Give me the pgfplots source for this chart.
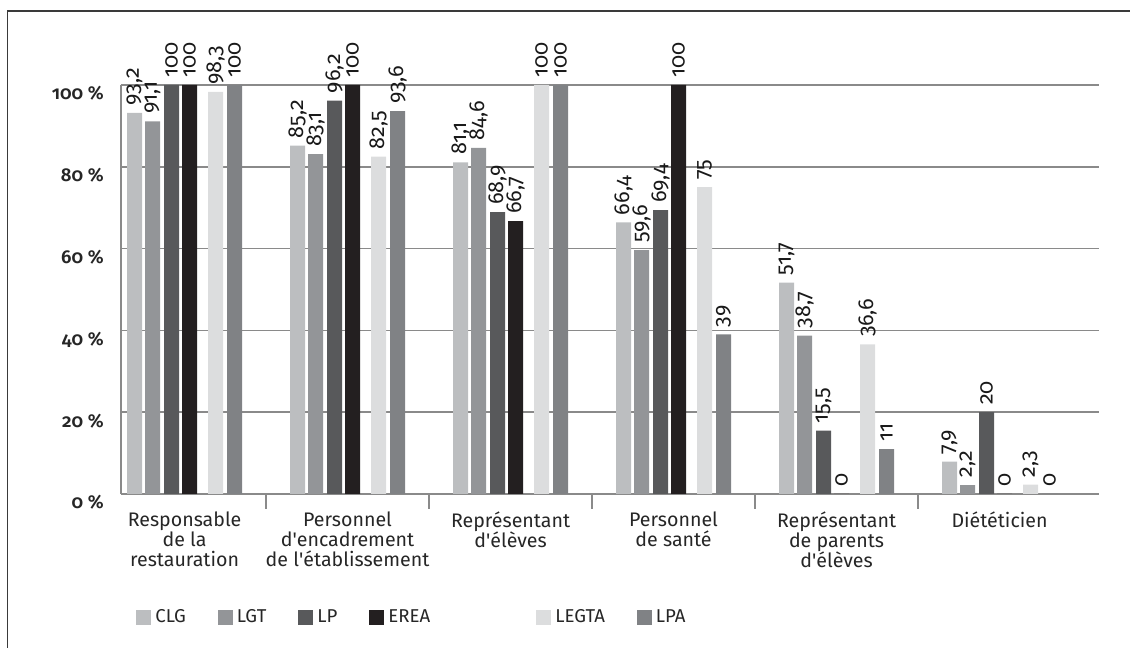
\documentclass[border=0pt]{standalone}
\usepackage{fontspec}
\setmainfont{Fira Sans}[Numbers=OldStyle, BoldFont={Fira Sans SemiBold}]
\usepackage{pgfplots}
\usepackage{pgfplotstable}
\pgfplotsset{compat=1.18}

\definecolor{cCLG}{HTML}{BCBEC0}
\definecolor{cLGT}{HTML}{939598}
\definecolor{cLP}{HTML}{58595B}
\definecolor{cEREA}{HTML}{231F20}
\definecolor{cLEGTA}{HTML}{DCDDDE}
\definecolor{cLPA}{HTML}{808285}
\definecolor{gridgray}{HTML}{8A8A8A}
\definecolor{framegray}{HTML}{3A3A3A}

% one row per category, one column per type of school
\pgfplotstableread{
g clg lgt lp erea legta lpa
0 93.2 91.1 100 100 98.3 100
1 85.2 83.1 96.2 100 82.5 93.6
2 81.1 84.6 68.9 66.7 100 100
3 66.4 59.6 69.4 100 75 39
4 51.7 38.7 15.5 0 36.6 11
5 7.9 2.2 20 0 2.3 0
}\datatable

\begin{document}
\begin{tikzpicture}[x=1pt,y=1pt]
\useasboundingbox (0,0) rectangle (565,324);
\draw[line width=0.9pt, framegray] (3.75,-10) -- (3.75,318.5) -- (600,318.5);
\begin{axis}[
  at={(60.5pt,77pt)}, anchor=south west,
  scale only axis, width=489pt, height=204.5pt,
  xmin=-0.39, xmax=5.61, ymin=0, ymax=100,
  ybar, bar width=7.5pt,
  clip=false,
  axis x line*=bottom, axis y line*=left,
  axis line style={-, gridgray, line width=0.75pt},
  ymajorgrids, grid style={gridgray, line width=0.75pt},
  xtick={0,...,5},
  xticklabels={
    Responsable\\de la\\restauration,
    Personnel\\d\textquotesingle encadrement\\de l\textquotesingle établissement,
    Représentant\\d\textquotesingle élèves,
    Personnel\\de santé,
    Représentant\\de parents\\d\textquotesingle élèves,
    Diététicien},
  minor xtick={0.5,1.5,2.5,3.5,4.5},
  major tick length=0pt, minor tick length=7.5pt, tick align=outside,
  minor x tick style={gridgray, line width=0.6pt},
  xticklabel style={align=center, anchor=north, inner sep=0pt, yshift=-8.5pt,
    font=\fontsize{9.8}{10}\selectfont, text=black!85},
  ytick={0,20,...,100},
  yticklabels={0 \%,20 \%,40 \%,60 \%,80 \%,100 \%},
  yticklabel style={anchor=base east, inner sep=0pt, xshift=-8.5pt, yshift=-7.5pt,
    font=\fontsize{9.3}{10}\selectfont\bfseries, text=black!85},
  nodes near coords,
  nodes near coords style={rotate=90, anchor=west, inner xsep=3.5pt, inner ysep=0pt,
    font=\fontsize{10.8}{11}\selectfont, text=black!90},
  /pgf/number format/.cd, use comma, 1000 sep={}, assume math mode=true,
  /pgfplots/.cd,
  legend columns=6,
  legend image code/.code={\fill[#1] (0pt,-3.75pt) rectangle (7.5pt,3.75pt);},
  legend style={at={(0.0153,-0.303)}, anchor=west, draw=none, inner sep=0pt,
    font=\fontsize{9.3}{10}\selectfont, text=black!85,
    /tikz/every even column/.append style={column sep=14pt}},
]
\addplot[fill=cCLG, draw=none, bar shift=-25pt] table[x=g, y=clg] {\datatable};
\addlegendentry{CLG}
\addplot[fill=cLGT, draw=none, bar shift=-16pt] table[x=g, y=lgt] {\datatable};
\addlegendentry{LGT}
\addplot[fill=cLP, draw=none, bar shift=-6.5pt] table[x=g, y=lp] {\datatable};
\addlegendentry{LP}
\addplot[fill=cEREA, draw=none, bar shift=2.5pt] table[x=g, y=erea] {\datatable};
\addlegendentry{EREA\rule{37pt}{0pt}}
\addplot[fill=cLEGTA, draw=none, bar shift=15.5pt] table[x=g, y=legta] {\datatable};
\addlegendentry{LEGTA}
\addplot[fill=cLPA, draw=none, bar shift=25pt] table[x=g, y=lpa] {\datatable};
\addlegendentry{LPA}
\end{axis}
\end{tikzpicture}
\end{document}
